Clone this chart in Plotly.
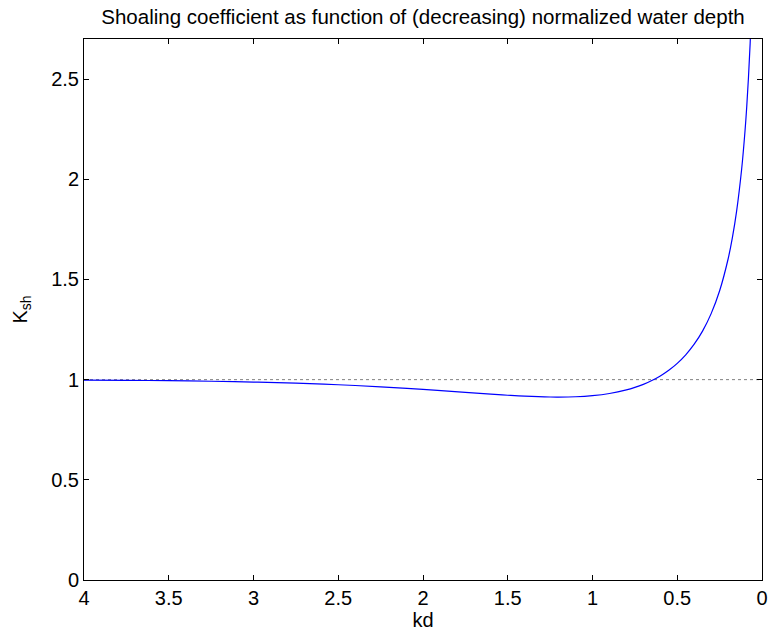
import plotly.graph_objects as go

# kd values (normalized water depth) and shoaling coefficient
kd = [4.0, 3.75, 3.5, 3.25, 3.0, 2.75, 2.5, 2.25, 2.0, 1.75, 1.6, 1.5, 1.4, 1.25, 1.2,
      1.1, 1.0, 0.9, 0.8, 0.75, 0.7, 0.65, 0.6, 0.55, 0.5, 0.45, 0.4, 0.35, 0.3, 0.25,
      0.2, 0.175, 0.15, 0.12, 0.1, 0.09, 0.08, 0.07, 0.06, 0.05]
ksh = [0.9977, 0.9964, 0.9946, 0.9919, 0.9879, 0.9823, 0.9745, 0.9641, 0.9512, 0.9364,
       0.9275, 0.9221, 0.9175, 0.9133, 0.9130, 0.9145, 0.9200, 0.9307, 0.9486, 0.9611,
       0.9765, 0.9954, 1.0185, 1.0467, 1.0813, 1.1238, 1.1767, 1.2434, 1.3294, 1.4435,
       1.6021, 1.7075, 1.8394, 2.0510, 2.2435, 2.3633, 2.5053, 2.6769, 2.890, 3.165]

ref_x = [4.0, 0.0]
ref_y = [1.0, 1.0]

x_ticks = [4, 3.5, 3, 2.5, 2, 1.5, 1, 0.5, 0]
y_ticks = [0, 0.5, 1, 1.5, 2, 2.5]

fig = go.Figure()
fig.add_trace(go.Scatter(x=ref_x, y=ref_y, mode="lines",
                         line=dict(color="#808080", width=1, dash="dot"),
                         showlegend=False, hoverinfo="skip"))
fig.add_trace(go.Scatter(x=kd, y=ksh, mode="lines",
                         line=dict(color="#0000ff", width=1.2, shape="spline"),
                         showlegend=False))

font = "Arial, Liberation Sans, sans-serif"
fig.update_layout(
    width=776, height=635,
    margin=dict(l=84, r=8, t=39, b=55),
    paper_bgcolor="white", plot_bgcolor="white",
    font=dict(family=font, size=20, color="black"),
    title=dict(text="Shoaling coefficient as function of (decreasing) normalized water depth",
               x=0.5, xref="paper", xanchor="center", y=0.973, yanchor="middle",
               font=dict(size=20.5, family=font, color="black")),
)
fig.update_xaxes(range=[4, 0], tickvals=x_ticks, ticktext=[f"{v:g}" for v in x_ticks],
                 showgrid=False, zeroline=False, showline=True, linecolor="black",
                 linewidth=1, mirror="ticks", ticks="inside", ticklen=5, tickcolor="black",
                 title=dict(text="kd", standoff=2, font=dict(size=20)),
                 tickfont=dict(size=20))
fig.update_yaxes(range=[0, 2.7], tickvals=y_ticks, ticktext=[f"{v:g}" for v in y_ticks],
                 showgrid=False, zeroline=False, showline=True, linecolor="black",
                 linewidth=1, mirror="ticks", ticks="inside", ticklen=5, tickcolor="black",
                 title=dict(text="K<sub>sh</sub>", standoff=18, font=dict(size=20)),
                 tickfont=dict(size=20))

fig.write_html("out.html")
